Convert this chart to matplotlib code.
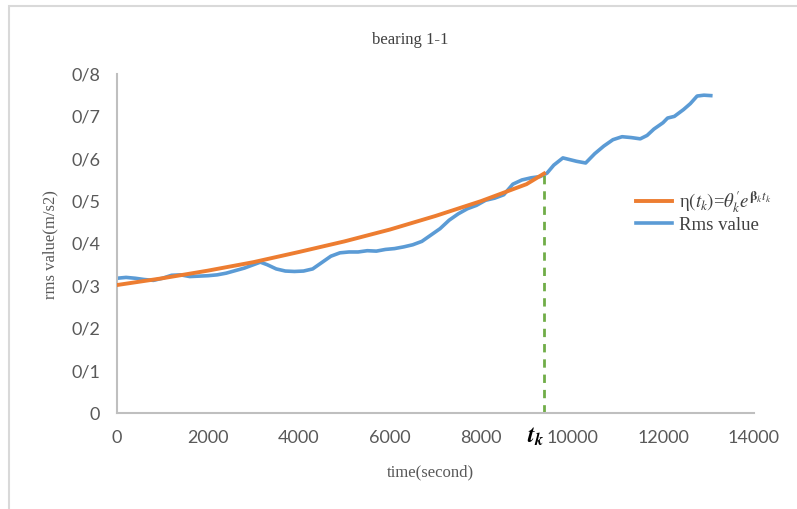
import matplotlib.pyplot as plt
from matplotlib.patches import Rectangle
from matplotlib.ticker import FuncFormatter

plt.rcParams['mathtext.fontset'] = 'stix'

# measured rms signal of bearing 1-1
time_s = [0, 200, 400, 600, 800, 1000, 1200, 1400, 1600, 1800, 2000, 2200, 2400,
          2600, 2800, 3000, 3150, 3300, 3500, 3700, 3900, 4100, 4300, 4500, 4700,
          4900, 5100, 5300, 5500, 5700, 5900, 6100, 6300, 6500, 6700, 6900, 7100,
          7300, 7500, 7700, 7900, 8100, 8300, 8500, 8700, 8900, 9100, 9300, 9450,
          9600, 9800, 9950, 10100, 10300, 10500, 10700, 10900, 11100, 11300, 11500,
          11650, 11800, 12000, 12100, 12250, 12450, 12600, 12750, 12900, 13050]
rms = [0.318, 0.320, 0.318, 0.315, 0.313, 0.318, 0.325, 0.326, 0.322, 0.323, 0.324,
       0.326, 0.330, 0.336, 0.342, 0.350, 0.356, 0.350, 0.340, 0.335, 0.334, 0.335,
       0.340, 0.355, 0.370, 0.378, 0.380, 0.380, 0.383, 0.382, 0.386, 0.388, 0.392,
       0.397, 0.405, 0.420, 0.435, 0.455, 0.470, 0.482, 0.490, 0.502, 0.507, 0.515,
       0.540, 0.550, 0.555, 0.558, 0.566, 0.585, 0.602, 0.598, 0.594, 0.590, 0.612,
       0.630, 0.645, 0.652, 0.650, 0.647, 0.655, 0.670, 0.685, 0.696, 0.700, 0.716,
       0.730, 0.748, 0.750, 0.749]

# exponential degradation fit up to t_k
fit_t = [0, 1000, 2000, 3000, 4000, 5000, 6000, 7000, 8000, 9000, 9385]
fit_v = [0.302, 0.318, 0.336, 0.356, 0.380, 0.405, 0.433, 0.465, 0.500, 0.540, 0.565]
t_k = 9385

fig = plt.figure(figsize=(7.97, 5.09), dpi=100)
fig.patches.append(Rectangle((9 / 797, -0.01), 1.0, 1 - 6 / 509 + 0.01,
                             transform=fig.transFigure, fill=False,
                             edgecolor='#D9D9D9', linewidth=1.5))
ax = fig.add_axes([117 / 797, 96 / 509, 637 / 797, 339 / 509])

ax.plot(fit_t, fit_v, color='#ED7D31', lw=2.8,
        label=r'η$(t_k)$=$\theta_k^{\prime}e^{\mathbf{\beta}_k t_k}$', zorder=3)
ax.plot(time_s, rms, color='#5B9BD5', lw=2.6, label='Rms value', zorder=2)
ax.plot([t_k, t_k], [0, fit_v[-1]], color='#70AD47', lw=2, ls=(0, (3, 2.5)))

ax.set_xlim(0, 14000)
ax.set_ylim(0, 0.8)
ax.set_xticks(range(0, 14001, 2000))
ax.set_yticks([i / 10 for i in range(9)])
ax.yaxis.set_major_formatter(FuncFormatter(lambda v, p: '0' if v == 0 else '0/%d' % round(v * 10)))
ax.tick_params(length=0, labelsize=13, labelcolor='#595959', pad=12)
for lab in ax.get_xticklabels() + ax.get_yticklabels():
    lab.set_fontfamily('Lato')
for s in ['top', 'right']:
    ax.spines[s].set_visible(False)
for s in ['left', 'bottom']:
    ax.spines[s].set_color('#BFBFBF')
    ax.spines[s].set_linewidth(1.5)

ax.text(t_k, -0.055, r'$\mathbfit{t_k}$', ha='right', va='center', fontsize=17)

fig.text(410 / 797, 1 - 40 / 509, 'bearing 1-1', ha='center', va='center',
         family='Liberation Serif', fontsize=12, color='#404040')
fig.text(430 / 797, 1 - 472 / 509, 'time(second)', ha='center', va='center',
         family='Liberation Serif', fontsize=12, color='#595959')
fig.text(50 / 797, 1 - 245 / 509, 'rms value(m/s2)', ha='center', va='center',
         rotation=90, family='Liberation Serif', fontsize=12, color='#595959')

leg = ax.legend(loc='center left', bbox_to_anchor=(0.815, 0.595), frameon=False,
                prop={'family': 'Liberation Serif', 'size': 13.5},
                handlelength=1.9, labelspacing=0.1, handletextpad=0.4,
                borderaxespad=0, borderpad=0)
for t in leg.get_texts():
    t.set_color('#404040')

fig.savefig('out.png', dpi=100)
